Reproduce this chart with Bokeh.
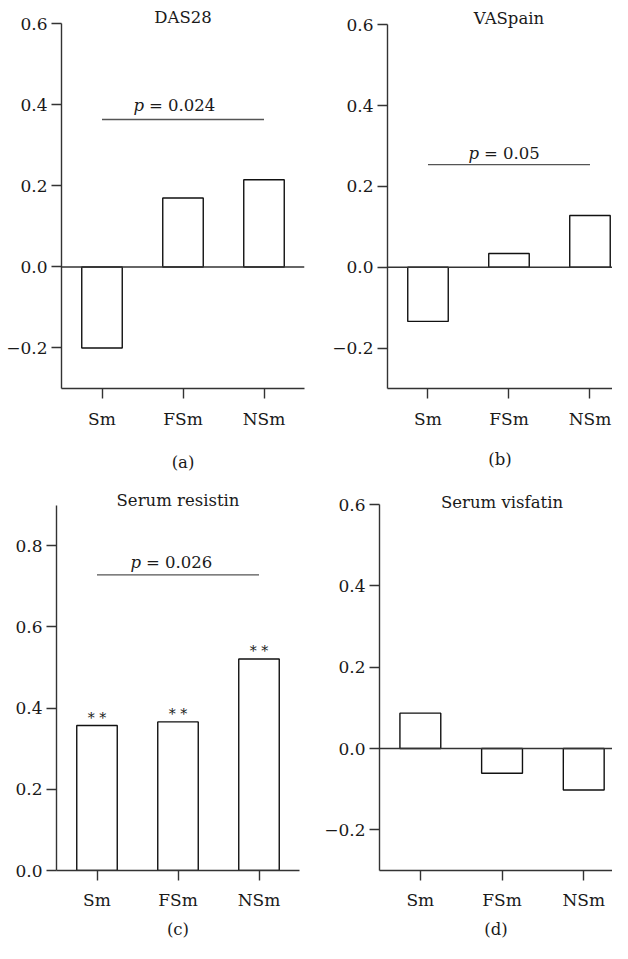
from bokeh.plotting import figure
from bokeh.models import Range1d, FixedTicker, Span
from bokeh.layouts import column, row
from bokeh.embed import file_html
from bokeh.resources import INLINE
from bokeh.core.properties import value

# ---------------- data ----------------
categories = ["Sm", "FSm", "NSm"]
das28 = [-0.200, 0.170, 0.215]
vaspain = [-0.134, 0.034, 0.128]
resistin = [0.357, 0.366, 0.521]
visfatin = [0.087, -0.061, -0.102]

ticks_signed = [-0.2, 0.0, 0.2, 0.4, 0.6]
labels_signed = ["\u22120.2", "0.0", "0.2", "0.4", "0.6"]
ticks_pos = [0.0, 0.2, 0.4, 0.6, 0.8]
labels_pos = ["0.0", "0.2", "0.4", "0.6", "0.8"]

titles = ["DAS28", "VASpain", "Serum resistin", "Serum visfatin"]
panel_labels = ["(a)", "(b)", "(c)", "(d)"]
p_values = ["= 0.024", "= 0.05", "= 0.026"]
p_bar_levels = [0.364, 0.254, 0.728]
stars_c = ["* *", "* *", "* *"]

x_idx = list(range(len(categories)))

FONT = "DejaVu Serif"
FS = "16.5px"
TICK_FS = "17px"
AXC = "#333333"
TXC = "#1a1a1a"


def panel(vals, title, plabel, ticks, tlabels, ylo, ytop, yend, title_y,
          xend, width, height, mb_left, mb_right, mb_bottom, tick_standoff,
          lab_standoff, zero_line=True, ptext=None, pbar=None, ptext_y=None,
          p_off=0, stars=None):
    p = figure(width=width, height=height,
               x_range=Range1d(-0.5, xend),
               y_range=Range1d(ylo, yend),
               output_backend="svg", toolbar_location=None, title=None,
               min_border_left=mb_left, min_border_right=mb_right,
               min_border_top=0, min_border_bottom=mb_bottom)
    p.background_fill_color = "white"
    p.border_fill_color = "white"
    p.outline_line_color = None
    p.xgrid.visible = False
    p.ygrid.visible = False

    # y axis
    ya = p.yaxis[0]
    ya.ticker = FixedTicker(ticks=ticks)
    ya.major_label_overrides = dict(zip(ticks, tlabels))
    ya.bounds = (ylo, ytop)
    ya.minor_tick_line_color = None
    ya.major_tick_in = 0
    ya.major_tick_out = 10
    ya.major_label_standoff = 4
    ya.axis_line_color = AXC
    ya.axis_line_width = 1.4
    ya.major_tick_line_color = AXC
    ya.major_tick_line_width = 1.4
    ya.major_label_text_font = FONT
    ya.major_label_text_font_size = TICK_FS
    ya.major_label_text_color = TXC

    # x axis (category positions with category names as labels)
    xa = p.xaxis[0]
    xa.ticker = FixedTicker(ticks=x_idx)
    xa.major_label_overrides = dict(zip(x_idx, categories))
    xa.minor_tick_line_color = None
    xa.major_tick_in = 0
    xa.major_tick_out = 10
    xa.major_label_standoff = tick_standoff
    xa.axis_line_color = AXC
    xa.axis_line_width = 1.4
    xa.major_tick_line_color = AXC
    xa.major_tick_line_width = 1.4
    xa.major_label_text_font = FONT
    xa.major_label_text_font_size = TICK_FS
    xa.major_label_text_color = TXC
    xa.axis_label = plabel
    xa.axis_label_standoff = lab_standoff
    xa.axis_label_text_font = FONT
    xa.axis_label_text_font_size = FS
    xa.axis_label_text_font_style = "normal"
    xa.axis_label_text_color = TXC

    if zero_line:
        p.add_layout(Span(location=0, dimension="width", line_color=AXC,
                          line_width=1.4))

    p.vbar(x=x_idx, top=vals, bottom=0, width=0.5,
           fill_color="white", line_color="#111111", line_width=1.4)

    # panel title
    p.text(x=[x_idx[1]], y=[title_y], text=[title],
           text_font=value(FONT), text_font_size=FS, text_color=TXC,
           text_align="center", text_baseline="middle")

    if ptext is not None:
        p.segment(x0=[x_idx[0]], x1=[x_idx[-1]], y0=[pbar], y1=[pbar],
                  line_color="#555555", line_width=1.4)
        p.text(x=[x_idx[1]], y=[ptext_y], text=["p"],
               text_font=value(FONT), text_font_size=FS, text_color=TXC,
               text_font_style="italic", text_align="right",
               text_baseline="alphabetic", x_offset=p_off)
        p.text(x=[x_idx[1]], y=[ptext_y], text=[ptext],
               text_font=value(FONT), text_font_size=FS, text_color=TXC,
               text_align="left", text_baseline="alphabetic",
               x_offset=p_off + 5)

    if stars is not None:
        p.text(x=x_idx, y=vals, text=stars,
               text_font=value(FONT), text_font_size="14px", text_color=TXC,
               text_align="center", text_baseline="alphabetic", y_offset=-8)
    return p


pa = panel(das28, titles[0], panel_labels[0], ticks_signed, labels_signed,
           -0.3, 0.6, 0.6575, 0.6156, 2.5, 314, 476, 61, 10, 88, 10, 21,
           ptext=p_values[0], pbar=p_bar_levels[0], ptext_y=0.398, p_off=-39)
pb = panel(vaspain, titles[1], panel_labels[1], ticks_signed, labels_signed,
           -0.3, 0.6, 0.66, 0.615, 2.278, 298, 476, 73, 0, 86, 10, 18,
           ptext=p_values[1], pbar=p_bar_levels[1], ptext_y=0.281, p_off=-30)
pc = panel(resistin, titles[2], panel_labels[2], ticks_pos, labels_pos,
           0.0, 0.9, 0.9704, 0.911, 2.5, 314, 467, 56, 15, 73, 9, 7,
           zero_line=False,
           ptext=p_values[2], pbar=p_bar_levels[2], ptext_y=0.759, p_off=-37,
           stars=stars_c)
pd_ = panel(visfatin, titles[3], panel_labels[3], ticks_signed, labels_signed,
            -0.3, 0.6, 0.669, 0.606, 2.352, 298, 467, 65, 0, 73, 9, 7)

layout = column(row(pa, pb), row(pc, pd_))

with open("out.html", "w") as f:
    f.write(file_html(layout, INLINE))
